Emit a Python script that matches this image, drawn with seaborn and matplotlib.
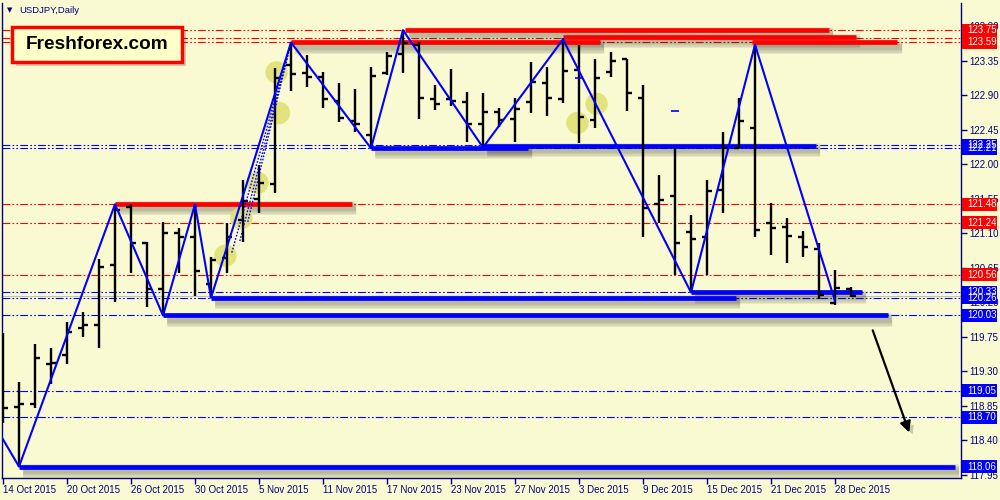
import numpy as np
import matplotlib
matplotlib.use("Agg")
import matplotlib.pyplot as plt
import matplotlib.patheffects as pe
import matplotlib.transforms as mtrans
from matplotlib.patches import Rectangle
import seaborn as sns

# --- daily bars USDJPY (index = trading day since 14 Oct 2015)
opens = [118.73, 118.84, 118.88, 119.40, 119.51, 119.87, 119.91, 120.69, 121.44, 120.97,
         120.37, 121.11, 121.05, 120.44, 120.78, 121.27, 121.55, 121.74, 123.30, 123.19,
         123.14, 122.83, 122.57, 122.38, 123.19, 123.44, 123.56, 122.85, 122.85, 122.81,
         122.53, 122.68, 122.59, 122.81, 123.06, 122.85, 123.23, 122.58, 123.20, 123.37,
         122.87, 121.48, 121.59, 121.12, 121.05, 121.67, 122.21, 122.47, 121.24, 121.18,
         121.05, 120.90, 120.19, 120.38]
highs = [119.80, 119.16, 119.66, 119.61, 119.94, 120.08, 120.77, 121.48, 121.48, 120.99,
         121.25, 121.17, 121.48, 120.79, 121.24, 121.80, 121.99, 123.26, 123.59, 123.43,
         123.20, 123.06, 122.98, 123.27, 123.47, 123.75, 123.60, 123.03, 123.24, 122.94,
         122.93, 122.73, 122.87, 123.33, 123.27, 123.65, 123.56, 123.37, 123.47, 123.37,
         123.03, 121.86, 122.21, 121.34, 121.80, 122.42, 122.87, 123.56, 121.50, 121.30,
         121.13, 120.97, 120.62, 120.40]
lows = [118.63, 118.06, 118.82, 119.14, 119.40, 119.75, 119.61, 120.21, 120.58, 120.14,
        120.03, 120.58, 120.29, 120.26, 120.58, 120.99, 121.37, 121.63, 122.96, 123.01,
        122.73, 122.55, 122.42, 122.21, 123.17, 123.19, 122.59, 122.71, 122.76, 122.29,
        122.22, 122.49, 122.29, 122.67, 122.63, 122.80, 122.28, 122.47, 123.14, 122.70,
        121.05, 121.24, 120.56, 120.33, 120.56, 121.37, 122.21, 121.05, 120.82, 120.71,
        120.79, 120.24, 120.17, 120.27]
closes = [118.82, 118.88, 119.48, 119.41, 119.81, 119.91, 120.66, 121.41, 120.97, 120.37,
          121.11, 121.05, 120.61, 120.75, 121.05, 121.52, 121.76, 123.13, 123.18, 123.14,
          122.85, 122.60, 122.53, 123.15, 123.41, 123.58, 122.87, 122.79, 122.83, 122.53,
          122.68, 122.58, 122.72, 123.07, 122.87, 123.22, 122.62, 123.13, 123.35, 122.93,
          121.43, 121.54, 120.97, 121.03, 121.65, 122.21, 122.57, 121.14, 121.17, 121.07,
          120.92, 120.30, 120.39, 120.28]

date_labels = ["14 Oct 2015", "20 Oct 2015", "26 Oct 2015", "30 Oct 2015", "5 Nov 2015",
               "11 Nov 2015", "17 Nov 2015", "23 Nov 2015", "27 Nov 2015", "3 Dec 2015",
               "9 Dec 2015", "15 Dec 2015", "21 Dec 2015", "28 Dec 2015"]

# zigzag swing points
zz_idx = [-1, 1, 7, 10, 12, 13, 18, 23, 25, 30, 35, 43, 47, 52]
zz_px = [118.77, 118.06, 121.48, 120.03, 121.48, 120.26, 123.59, 122.21, 123.75,
         122.22, 123.63, 120.33, 123.56, 120.22]

# dotted fan lines into the 18th bar top
fan_idx = [14.3, 14.8, 15.3]
fan_px = [120.85, 121.00, 121.25]

# level lines (dash-dot, full width)
red_levels = [123.75, 123.65, 123.59, 121.48, 121.24, 120.56]
blue_levels = [122.25, 122.21, 120.33, 120.26, 120.03, 119.05, 118.70]

# thick support / resistance segments: start, end, price
red_seg_start = [7, 18, 25.1, 35, 46.8]
red_seg_end = [21.8, 37.3, 51.6, 53.3, 55.9]
red_seg_px = [121.48, 123.59, 123.75, 123.66, 123.59]
blue_seg_start = [1, 10, 13, 23, 30, 43]
blue_seg_end = [59.5, 55.3, 45.8, 32.8, 50.8, 53.7]
blue_seg_px = [118.06, 120.03, 120.26, 122.21, 122.24, 120.33]

# price tags on the right scale
tag_px = [123.75, 123.59, 122.21, 122.25, 121.48, 121.24, 120.56, 120.33, 120.26,
          120.03, 119.05, 118.70, 118.06]
tag_col = ["red", "red", "blue", "blue", "red", "red", "red", "blue", "blue",
           "blue", "blue", "blue", "blue"]

# yellow highlight circles
circ_idx = [13.9, 14.9, 15.9, 17.1, 17.25, 35.9, 37.1]
circ_px = [120.81, 121.30, 121.76, 123.20, 122.67, 122.54, 122.79]

# small blue marks
mark_idx = [42, 36]
mark_px = [122.70, 123.13]

# forecast arrow
arrow_idx = [54.3, 56.7]
arrow_px = [119.87, 118.47]

BG = "#fafad2"
NAVY = "#000080"
RED = "#ff0000"
BLUE = "#0000ff"

sns.set_theme(style="white")
plt.rcParams["font.family"] = ["Liberation Sans", "DejaVu Sans"]

fig = plt.figure(figsize=(10, 5), dpi=100, facecolor=BG)
ax = fig.add_axes([0.002, 0.044, 0.959, 0.95])
ax.set_facecolor(BG)

n = len(opens)
idx = np.arange(n)

# soft drop shadow (several faint layers = blur)
shadow = [pe.SimpleLineShadow(offset=(3, -3), shadow_color="k", alpha=0.08, linewidth=w)
          for w in (10, 8, 6, 4)] + [pe.Normal()]

# level lines
for p in red_levels:
    ax.axhline(p, color=RED, lw=0.8, dashes=(7, 2, 1.5, 2, 1.5, 2), zorder=1)
for p in blue_levels:
    ax.axhline(p, color=BLUE, lw=0.8, dashes=(7, 2, 1.5, 2, 1.5, 2), zorder=1)
ax.axhline(closes[-1], color="#c0c0c0", lw=0.8, zorder=1)

# thick segments
ax.hlines(red_seg_px, red_seg_start, red_seg_end, color=RED, lw=3.4, zorder=2,
          path_effects=shadow)
ax.hlines(blue_seg_px, blue_seg_start, blue_seg_end, color=BLUE, lw=3.4, zorder=2,
          path_effects=shadow)

# highlight circles
sns.scatterplot(x=circ_idx, y=circ_px, s=260, color="#e0e070", alpha=0.85,
                edgecolor="none", ax=ax, zorder=3, legend=False)

# OHLC bars
ax.vlines(idx, lows, highs, color="black", lw=1.7, zorder=4)
ax.hlines(opens, idx - 0.34, idx, color="black", lw=1.7, zorder=4)
ax.hlines(closes, idx, idx + 0.34, color="black", lw=1.7, zorder=4)

# zigzag
sns.lineplot(x=zz_idx, y=zz_px, sort=False, color=BLUE, lw=1.5, ax=ax, zorder=5)
for fi, fp in zip(fan_idx, fan_px):
    ax.plot([fi, zz_idx[6]], [fp, zz_px[6]], color=BLUE, lw=1.0, ls=(0, (1.2, 1.2)), zorder=5)
ax.scatter(mark_idx, mark_px, marker="_", s=40, color=BLUE, lw=1.2, zorder=5)

# arrow
ax.annotate("", xy=(arrow_idx[1], arrow_px[1]), xytext=(arrow_idx[0], arrow_px[0]),
            arrowprops=dict(arrowstyle="-|>", color="black", lw=1.6, mutation_scale=16,
                            path_effects=[pe.SimplePatchShadow(offset=(3, -3), alpha=0.2),
                                          pe.Normal()]),
            zorder=6)

ax.set_xlim(-0.0625, 59.875)
ax.set_ylim(117.911, 124.104)

# axes styling
ax.spines["top"].set_visible(False)
for s in ["left", "bottom", "right"]:
    ax.spines[s].set_color(NAVY)
    ax.spines[s].set_linewidth(1.0)

yt = np.round(np.arange(117.95, 123.81, 0.45), 2)
ax.yaxis.tick_right()
ax.set_yticks(yt)
ax.set_yticklabels([f"{v:.2f}" for v in yt])
ax.tick_params(axis="y", right=True, left=False, length=4, width=1, color=NAVY,
               labelcolor=NAVY, labelsize=7, pad=2, direction="out")
ax.set_xticks(np.arange(0, n, 4))
ax.set_xticklabels(date_labels, ha="left")
ax.tick_params(axis="x", bottom=True, length=4, width=1, color=NAVY,
               labelcolor=NAVY, labelsize=7, pad=1, direction="out")
ax.grid(False)
ax.set_xlabel("")
ax.set_ylabel("")

# price tags
tr = mtrans.blended_transform_factory(ax.transAxes, ax.transData)
hh = 13 / 76.7
for p, c in zip(tag_px, tag_col):
    col = RED if c == "red" else BLUE
    ax.add_patch(Rectangle((1.001, p - hh / 2), 0.037, hh, transform=tr, facecolor=col,
                           edgecolor="none", clip_on=False, zorder=7))
    ax.text(1.0065, p, f"{p:.2f}", transform=tr, color="white", fontsize=7,
            va="center", ha="left", clip_on=False, zorder=8)

# title
fig.text(0.007, 0.979, "\u25bc", color=NAVY, fontsize=5, family="DejaVu Sans", va="center")
fig.text(0.019, 0.979, "USDJPY,Daily", color=NAVY, fontsize=6.8, va="center")

# logo box
fig.add_artist(Rectangle((0.016, 1 - 66 / 500), 0.17, 35 / 500, transform=fig.transFigure,
                         facecolor="k", alpha=0.2, edgecolor="none", zorder=9))
fig.add_artist(Rectangle((0.012, 1 - 62 / 500), 0.17, 35 / 500, transform=fig.transFigure,
                         facecolor="#ffffc8", edgecolor=RED, lw=2.5, zorder=10))
fig.text(0.097, 1 - 44.5 / 500, "Freshforex.com", fontsize=13.7, fontweight="bold",
         color="black", ha="center", va="center", zorder=11)

fig.savefig("out.png", dpi=100, facecolor=BG)
